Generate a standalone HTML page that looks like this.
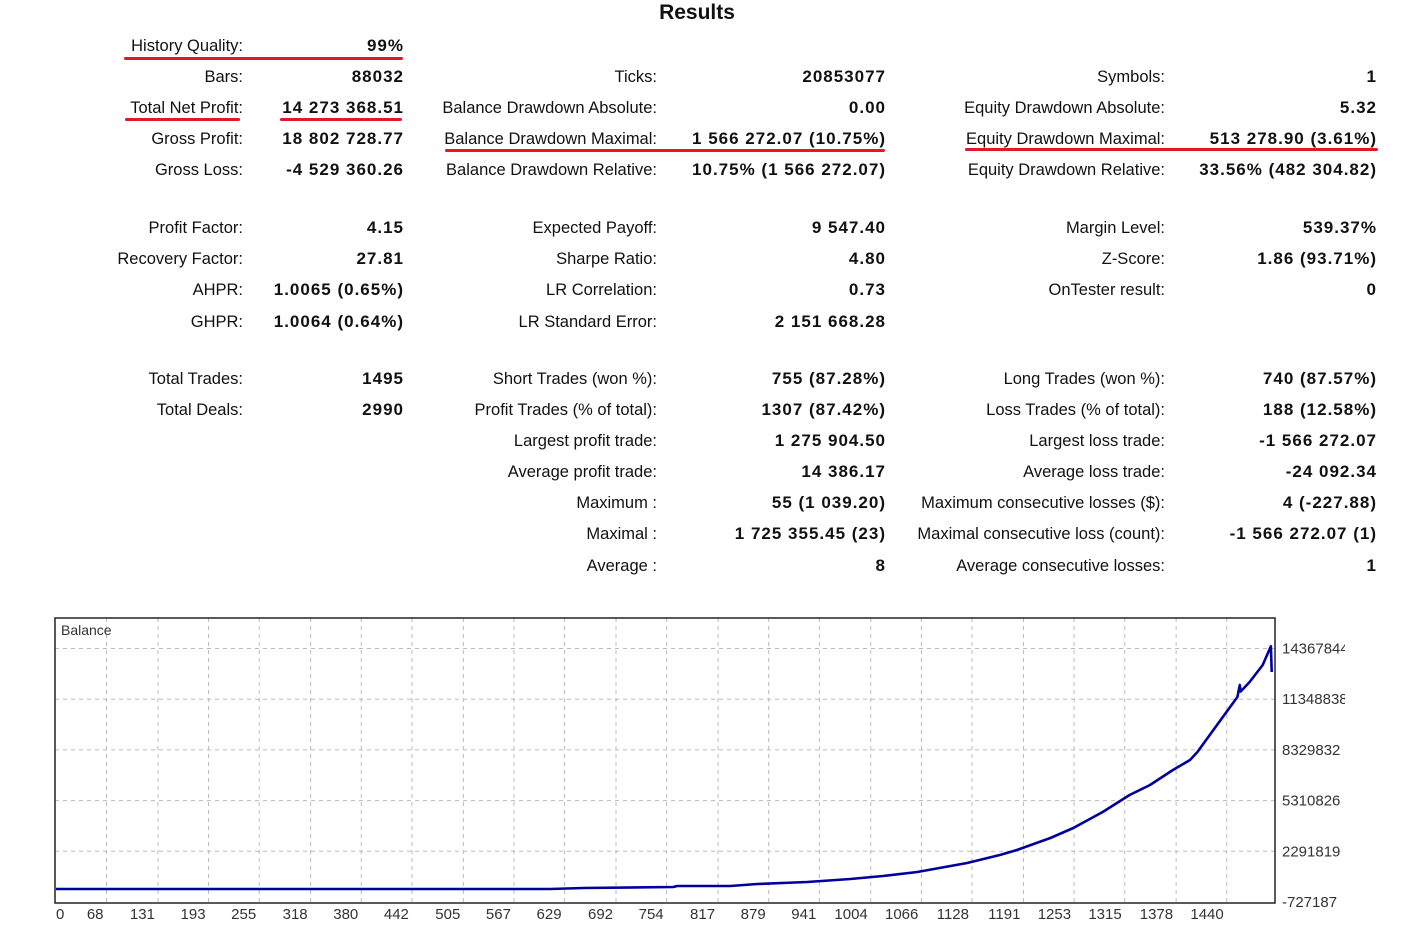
<!DOCTYPE html>
<html><head><meta charset="utf-8">
<style>
body{margin:0;width:1427px;height:941px;background:#fff;position:relative;overflow:hidden;font-family:"Liberation Sans","DejaVu Sans",sans-serif;color:#111;}
.t{position:absolute;font-size:16.5px;white-space:nowrap;line-height:20px;}
.l{text-align:right;}
.v{text-align:right;font-weight:bold;font-size:17px;letter-spacing:1px;}
.u{position:absolute;height:3px;background:#e0182a;border-radius:2px;}
#title{position:absolute;left:0;width:1394px;top:1px;text-align:center;font-weight:bold;font-size:21px;}
</style></head><body>
<div id="title">Results</div>
<div id="tbl"></div>
<div class="u" style="left:124px;top:57px;width:279px"></div>
<div class="u" style="left:125px;top:118px;width:115px"></div>
<div class="u" style="left:280px;top:118px;width:122px"></div>
<div class="u" style="left:445px;top:149px;width:440px"></div>
<div class="u" style="left:965px;top:148px;width:413px"></div>
<svg id="chart" width="1427" height="941" style="position:absolute;left:0;top:0"></svg>
<script>
const rows=[46,77,108,139,170,228,259,290,322,379,410,441,472,503,534,566];
const col1=[["History Quality:","99%",0],["Bars:","88032",1],["Total Net Profit:","14 273 368.51",2],["Gross Profit:","18 802 728.77",3],["Gross Loss:","-4 529 360.26",4],["Profit Factor:","4.15",5],["Recovery Factor:","27.81",6],["AHPR:","1.0065 (0.65%)",7],["GHPR:","1.0064 (0.64%)",8],["Total Trades:","1495",9],["Total Deals:","2990",10]];
const col2=[["Ticks:","20853077",1],["Balance Drawdown Absolute:","0.00",2],["Balance Drawdown Maximal:","1 566 272.07 (10.75%)",3],["Balance Drawdown Relative:","10.75% (1 566 272.07)",4],["Expected Payoff:","9 547.40",5],["Sharpe Ratio:","4.80",6],["LR Correlation:","0.73",7],["LR Standard Error:","2 151 668.28",8],["Short Trades (won %):","755 (87.28%)",9],["Profit Trades (% of total):","1307 (87.42%)",10],["Largest profit trade:","1 275 904.50",11],["Average profit trade:","14 386.17",12],["Maximum :","55 (1 039.20)",13],["Maximal :","1 725 355.45 (23)",14],["Average :","8",15]];
const col3=[["Symbols:","1",1],["Equity Drawdown Absolute:","5.32",2],["Equity Drawdown Maximal:","513 278.90 (3.61%)",3],["Equity Drawdown Relative:","33.56% (482 304.82)",4],["Margin Level:","539.37%",5],["Z-Score:","1.86 (93.71%)",6],["OnTester result:","0",7],["Long Trades (won %):","740 (87.57%)",9],["Loss Trades (% of total):","188 (12.58%)",10],["Largest loss trade:","-1 566 272.07",11],["Average loss trade:","-24 092.34",12],["Maximum consecutive losses ($):","4 (-227.88)",13],["Maximal consecutive loss (count):","-1 566 272.07 (1)",14],["Average consecutive losses:","1",15]];
const tbl=document.getElementById('tbl');
function put(cols,lr,vr){
 cols.forEach(c=>{
  const a=document.createElement('div');a.className='t l';
  
  
  a.style.right=(1427-lr)+'px';a.style.top=(rows[c[2]]-10)+'px';a.textContent=c[0];tbl.appendChild(a);
  const b=document.createElement('div');b.className='t v';
  
  
  b.style.right=(1427-vr-1)+'px';b.style.top=(rows[c[2]]-10)+'px';b.textContent=c[1];tbl.appendChild(b);
 });
}
put(col1,243,403);put(col2,657,885);put(col3,1165,1376);

// chart data
const trades=[0,611,652,762,767,832,865,926,979,1019,1061,1122,1162,1183,1224,1252,1288,1321,1346,1374,1395,1404,1428,1453,1456,1457,1468,1484,1494,1495];
const balance=[47000,47000,107000,166000,226000,226000,345000,464000,643000,821000,1060000,1596000,2072000,2370000,3084000,3679000,4632000,5644000,6240000,7133000,7729000,8205000,9813000,11480000,12194000,11800000,12373000,13385000,14500000,12969000];
const yTicks=[-727187,2291819,5310826,8329832,11348838,14367844];
const yLabels=["-727187","2291819","5310826","8329832","11348838","14367844"];
const xTicks=[0,68,131,193,255,318,380,442,505,567,629,692,754,817,879,941,1004,1066,1128,1191,1253,1315,1378,1440];
const svg=document.getElementById('chart');const NS='http://www.w3.org/2000/svg';
const L=55,R=1275,T=618,B=903;
const xs=i=>Math.max(L+1,51+i*0.8165);
const ys=v=>902-(v-yTicks[0])/(yTicks[1]-yTicks[0])*50.7;
function mk(tag,at){const e=document.createElementNS(NS,tag);for(const k in at)e.setAttribute(k,at[k]);svg.appendChild(e);return e;}
const cp=mk('clipPath',{id:'yclip'});
const cr=document.createElementNS(NS,'rect');cr.setAttribute('x',1278);cr.setAttribute('y',600);cr.setAttribute('width',67);cr.setAttribute('height',330);cp.appendChild(cr);
yTicks.forEach((v,i)=>{
 const y=ys(v);
 if(i>0){const g=mk('line',{x1:L,x2:R,y1:y,y2:y,stroke:'#bbb','stroke-dasharray':'4,4','stroke-width':1});
 
 }
 const tx=mk('text',{x:1282,y:y+5,'font-size':15,fill:'#333','font-family':'Liberation Sans, sans-serif','clip-path':'url(#yclip)'});
 
 
 tx.textContent=yLabels[i];
});
xTicks.forEach((v,i)=>{
 const x=51+v*0.8165;
 if(i>0){const g=mk('line',{x1:x,x2:x,y1:T,y2:B,stroke:'#bbb','stroke-dasharray':'4,4','stroke-width':1});
 
 }
 const tx=mk('text',{x:i==0?56:x-3,y:919,'font-size':15,fill:'#333','text-anchor':i==0?'start':'end','font-family':'Liberation Sans, sans-serif'});
 
 
 tx.textContent=String(v);
});
const fr=mk('rect',{x:L,y:T,width:R-L,height:B-T,fill:'none',stroke:'#222','stroke-width':1.5});


const lbl=mk('text',{x:61,y:635,'font-size':14,fill:'#333','font-family':'Liberation Sans, sans-serif'});


lbl.textContent='Balance';
const pts=trades.map((t,i)=>xs(t).toFixed(1)+','+ys(balance[i]).toFixed(1)).join(' ');
const ln=mk('polyline',{points:pts,fill:'none',stroke:'#00009c','stroke-width':2.6,'stroke-linejoin':'round'});


</script>
</body></html>
